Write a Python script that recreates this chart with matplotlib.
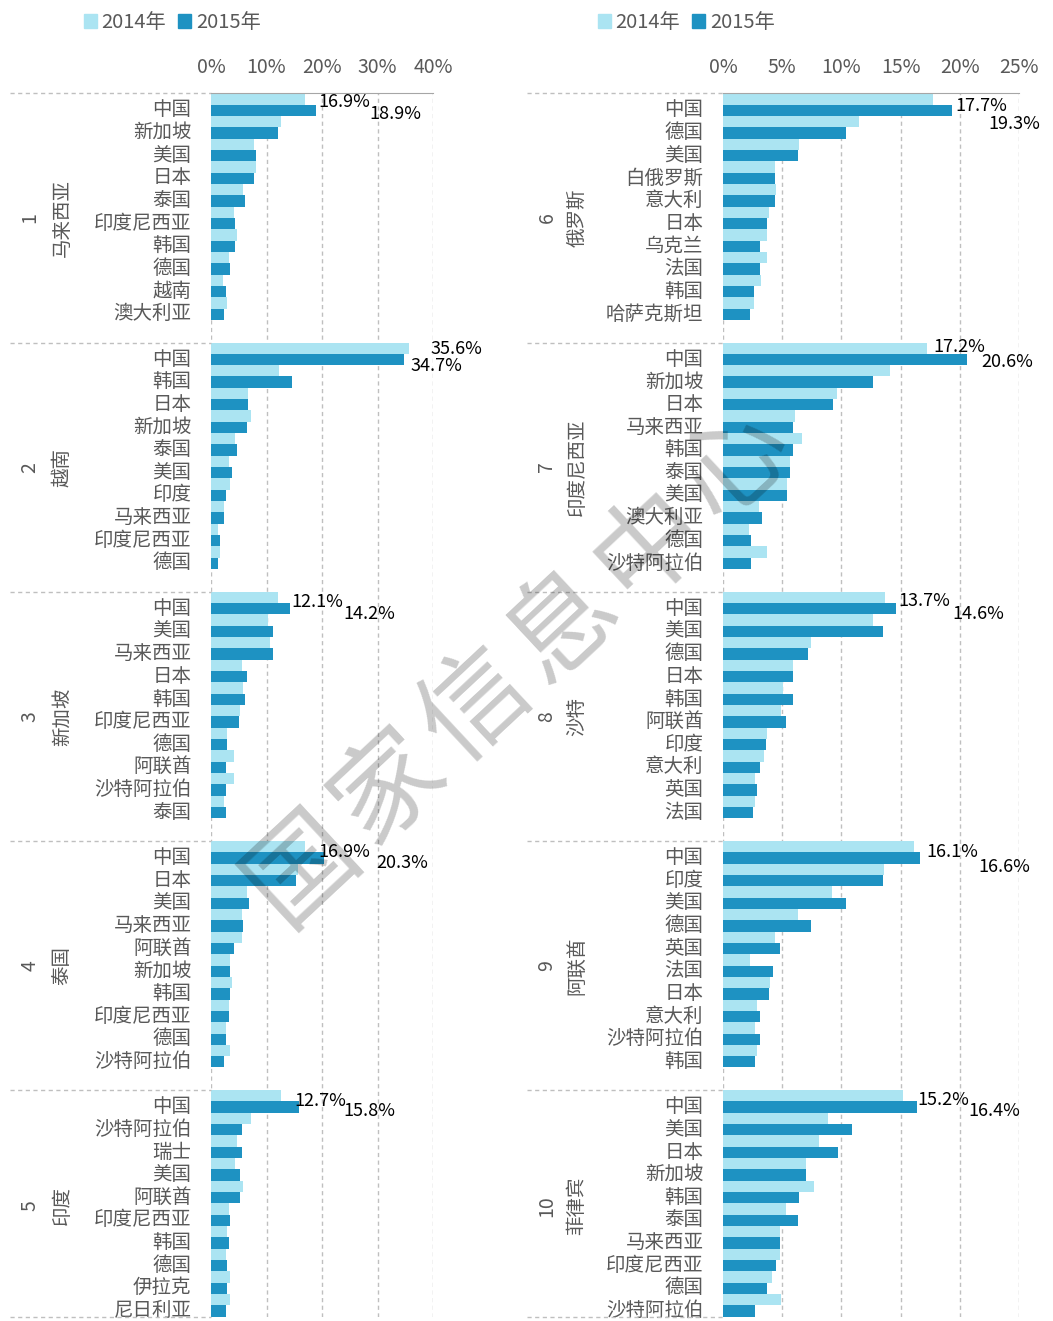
import numpy as np
import matplotlib
matplotlib.use('Agg')
import matplotlib.pyplot as plt
from matplotlib.patches import Patch

plt.rcParams['font.family'] = ['Noto Sans CJK SC', 'DejaVu Sans']

##########
# 数据    #
##########

# 左栏 1-5
left_nums = ['1', '2', '3', '4', '5']
left_names = ['马来西亚', '越南', '新加坡', '泰国', '印度']
left_cats = [
    ['中国', '新加坡', '美国', '日本', '泰国', '印度尼西亚', '韩国', '德国', '越南', '澳大利亚'],
    ['中国', '韩国', '日本', '新加坡', '泰国', '美国', '印度', '马来西亚', '印度尼西亚', '德国'],
    ['中国', '美国', '马来西亚', '日本', '韩国', '印度尼西亚', '德国', '阿联酋', '沙特阿拉伯', '泰国'],
    ['中国', '日本', '美国', '马来西亚', '阿联酋', '新加坡', '韩国', '印度尼西亚', '德国', '沙特阿拉伯'],
    ['中国', '沙特阿拉伯', '瑞士', '美国', '阿联酋', '印度尼西亚', '韩国', '德国', '伊拉克', '尼日利亚'],
]
left_2014 = [
    [16.9, 12.6, 7.7, 8.1, 5.8, 4.1, 4.6, 3.2, 2.1, 2.9],
    [35.6, 12.3, 6.7, 7.2, 4.4, 3.2, 3.5, 2.4, 1.3, 1.6],
    [12.1, 10.3, 10.6, 5.5, 5.8, 5.2, 2.9, 4.1, 4.1, 2.4],
    [16.9, 15.7, 6.4, 5.5, 5.5, 3.5, 3.8, 3.2, 2.7, 3.5],
    [12.7, 7.2, 4.7, 4.4, 5.8, 3.2, 2.9, 2.7, 3.5, 3.5],
]
left_2015 = [
    [18.9, 12.0, 8.1, 7.7, 6.1, 4.4, 4.4, 3.5, 2.7, 2.4],
    [34.7, 14.6, 6.7, 6.4, 4.7, 3.8, 2.7, 2.4, 1.6, 1.3],
    [14.2, 11.2, 11.2, 6.4, 6.1, 5.0, 2.9, 2.7, 2.7, 2.7],
    [20.3, 15.4, 6.9, 5.8, 4.1, 3.5, 3.5, 3.2, 2.7, 2.4],
    [15.8, 5.5, 5.5, 5.2, 5.2, 3.5, 3.2, 2.9, 2.9, 2.7],
]

# 右栏 6-10
right_nums = ['6', '7', '8', '9', '10']
right_names = ['俄罗斯', '印度尼西亚', '沙特', '阿联酋', '菲律宾']
right_cats = [
    ['中国', '德国', '美国', '白俄罗斯', '意大利', '日本', '乌克兰', '法国', '韩国', '哈萨克斯坦'],
    ['中国', '新加坡', '日本', '马来西亚', '韩国', '泰国', '美国', '澳大利亚', '德国', '沙特阿拉伯'],
    ['中国', '美国', '德国', '日本', '韩国', '阿联酋', '印度', '意大利', '英国', '法国'],
    ['中国', '印度', '美国', '德国', '英国', '法国', '日本', '意大利', '沙特阿拉伯', '韩国'],
    ['中国', '美国', '日本', '新加坡', '韩国', '泰国', '马来西亚', '印度尼西亚', '德国', '沙特阿拉伯'],
]
right_2014 = [
    [17.7, 11.5, 6.4, 4.4, 4.5, 3.9, 3.7, 3.7, 3.2, 2.6],
    [17.2, 14.1, 9.6, 6.1, 6.7, 5.7, 5.4, 3.0, 2.2, 3.7],
    [13.7, 12.7, 7.4, 5.9, 5.1, 4.9, 3.7, 3.5, 2.7, 2.7],
    [16.1, 13.6, 9.2, 6.3, 4.4, 2.3, 4.0, 2.9, 2.7, 2.9],
    [15.2, 8.9, 8.1, 7.0, 7.7, 5.3, 4.8, 4.8, 4.1, 4.9],
]
right_2015 = [
    [19.3, 10.4, 6.3, 4.4, 4.4, 3.7, 3.1, 3.1, 2.6, 2.3],
    [20.6, 12.7, 9.3, 5.9, 5.9, 5.7, 5.4, 3.3, 2.4, 2.4],
    [14.6, 13.5, 7.2, 5.9, 5.9, 5.3, 3.6, 3.1, 2.9, 2.5],
    [16.6, 13.5, 10.4, 7.4, 4.8, 4.2, 3.9, 3.1, 3.1, 2.7],
    [16.4, 10.9, 9.7, 7.0, 6.4, 6.3, 4.8, 4.5, 3.7, 2.7],
]

# 数据标签摆放：(2014 横向偏移, 2015 横向偏移, 2014 纵向, 2015 纵向)
left_shift = [(0.4, 9.6, 0.40, 0.92), (3.9, 0.3, 0.28, 1.02), (0.3, 9.6, 0.46, 0.97),
              (-1.0, 9.4, 0.50, 0.99), (-0.7, 8.0, 0.46, 0.94)]
right_shift = [(0.3, 3.1, 0.58, 1.35), (-2.8, 1.2, 0.18, 0.88), (0.2, 4.8, 0.42, 0.97),
               (0.6, 5.0, 0.47, 1.16), (0.0, 4.3, 0.42, 0.94)]

watermark = '国家信息中心'

c14 = '#ABE4F2'
c15 = '#1E92C2'
gris = '#595959'
linea = '#BFBFBF'
slot = 11          # 每组 10 项 + 1 空行
total = slot * 5 - 1


def draw_panel(ax, nums, names, cats, v14, v15, shifts, xmax, step, sep_x, num_x, name_x):
    yticks, ylabels = [], []
    for g in range(len(names)):
        base = g * slot
        ys = base + np.arange(len(cats[g]))
        ax.barh(ys + 0.25, v14[g], height=0.5, color=c14, zorder=2)
        ax.barh(ys + 0.75, v15[g], height=0.5, color=c15, zorder=2)
        yticks += list(ys + 0.62)
        ylabels += cats[g]

        # 数据标签（只标第一项）
        top = max(v14[g][0], v15[g][0])
        dx14, dx15, dy14, dy15 = shifts[g]
        ax.text(top + dx14, base + dy14, f'{v14[g][0]:.1f}%', fontsize=13,
                color='black', va='center', ha='left', clip_on=False, zorder=5)
        ax.text(top + dx15, base + dy15, f'{v15[g][0]:.1f}%', fontsize=13,
                color='black', va='center', ha='left', clip_on=False, zorder=5)

        # 分组标签
        yc = base + (5.5 if g < len(names) - 1 else 5.1)
        ax.text(num_x, yc, nums[g], rotation=90, fontsize=14, color=gris,
                ha='center', va='center', transform=ax.get_yaxis_transform())
        ax.text(name_x, yc, names[g], rotation=90, fontsize=14, color=gris,
                ha='center', va='center', transform=ax.get_yaxis_transform())

    # 分隔虚线
    for y in [0, 11, 22, 33, 44, total]:
        ax.plot([sep_x, 0], [y, y], transform=ax.get_yaxis_transform(), clip_on=False,
                color=linea, lw=1, ls=(0, (3, 2.5)))

    ax.set_ylim(total, 0)
    ax.set_xlim(0, xmax)
    ax.set_yticks(yticks)
    ax.set_yticklabels(ylabels, fontsize=14, color=gris)
    ticks = np.arange(0, xmax + 0.1, step)
    ax.set_xticks(ticks)
    ax.set_xticklabels([f'{t:.0f}%' for t in ticks], fontsize=14, color=gris)
    ax.xaxis.tick_top()
    ax.tick_params(axis='both', length=0)
    ax.tick_params(axis='x', pad=11)
    ax.tick_params(axis='y', pad=14)
    ax.xaxis.grid(True, color=linea, lw=1, ls=(0, (3, 2.5)))
    ax.set_axisbelow(True)
    for s in ['bottom', 'left', 'right']:
        ax.spines[s].set_visible(False)
    ax.spines['top'].set_color('#A6A6A6')


W, H = 1053, 1321
fig = plt.figure(figsize=(W / 100, H / 100), dpi=100)

ax1 = fig.add_axes([211 / W, 1 - 1316.7 / H, 222 / W, 1223.4 / H])
ax2 = fig.add_axes([723 / W, 1 - 1316.7 / H, 296 / W, 1223.4 / H])

draw_panel(ax1, left_nums, left_names, left_cats, left_2014, left_2015, left_shift,
           40, 10, -0.905, -0.815, -0.671)
draw_panel(ax2, right_nums, right_names, right_cats, right_2014, right_2015, right_shift,
           25, 5, -0.662, -0.595, -0.493)

# 图例
handles = [Patch(color=c14, label='2014年'), Patch(color=c15, label='2015年')]
for x0 in [70 / W, 584 / W]:
    leg = fig.legend(handles=handles, loc='upper left', bbox_to_anchor=(x0, 1 + 2 / H),
                     ncol=2, frameon=False, fontsize=14.5, handlelength=0.62, handleheight=0.62,
                     handletextpad=0.25, columnspacing=0.6, borderpad=0.2)
    for t in leg.get_texts():
        t.set_color(gris)

# 水印：沿斜线逐字摆放
x_a, y_a, x_b, y_b = 303, 868, 736, 464
for i, ch in enumerate(watermark):
    f = i / (len(watermark) - 1)
    fig.text((x_a + f * (x_b - x_a)) / W, 1 - (y_a + f * (y_b - y_a)) / H, ch,
             rotation=43, fontsize=78, fontweight='medium', color='black', alpha=0.21,
             ha='center', va='center', rotation_mode='anchor', zorder=10)

fig.savefig('out.png', dpi=100)
